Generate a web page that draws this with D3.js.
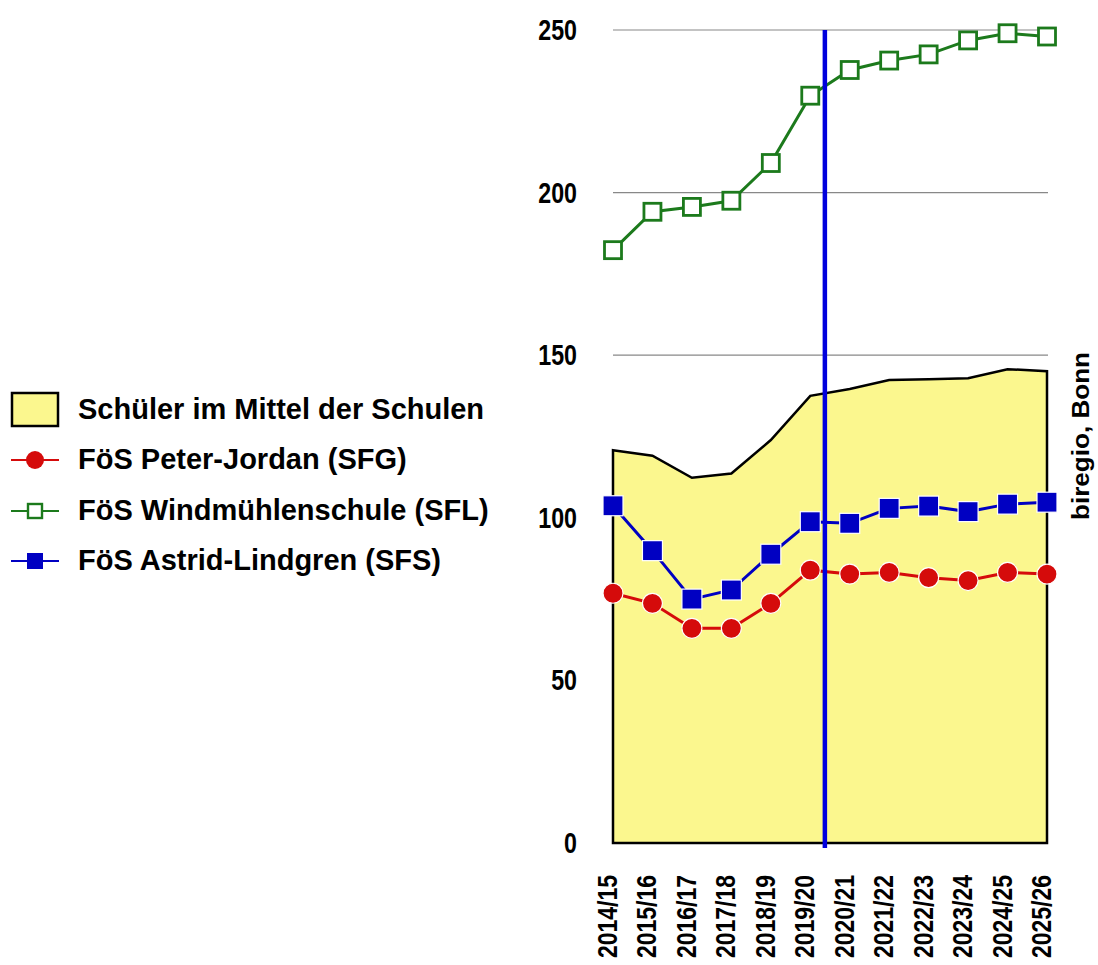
<!DOCTYPE html>
<html>
<head>
<meta charset="utf-8">
<script src="https://cdn.jsdelivr.net/npm/d3@7"></script>
<style>
  body { margin: 0; background: #fff; }
  text { font-family: "Liberation Sans", Arial, sans-serif; font-weight: bold; }
</style>
</head>
<body>
<div id="chart"></div>
<script>
// ----------------------------------------
// DATA
// ----------------------------------------
const years = ["2014/15", "2015/16", "2016/17", "2017/18", "2018/19", "2019/20",
  "2020/21", "2021/22", "2022/23", "2023/24", "2024/25", "2025/26"];

const mittel = [120.8, 119.1, 112.3, 113.6, 123.9, 137.5, 139.6, 142.4, 142.6, 142.9, 145.7, 145.1];
const peterJordan = [76.8, 73.7, 66.0, 66.0, 73.7, 83.9, 82.7, 83.2, 81.6, 80.7, 83.2, 82.7];
const windmuehle = [182.3, 194.1, 195.6, 197.5, 209.1, 229.8, 237.7, 240.6, 242.5, 246.8, 249.0, 248.0];
const astrid = [103.7, 89.9, 75.0, 77.8, 88.8, 98.8, 98.3, 102.9, 103.6, 101.9, 104.2, 104.8];

const yTicks = [0, 50, 100, 150, 200, 250];
const gridTicks = [150, 200, 250];
const legendLabels = ["Schüler im Mittel der Schulen", "FöS Peter-Jordan (SFG)",
  "FöS Windmühlenschule (SFL)", "FöS Astrid-Lindgren (SFS)"];

// ----------------------------------------
// SETUP
// ----------------------------------------
const width = 1098, height = 965;
const red = "#d50b0b", green = "#1c7a1c", blue = "#0000c2";

const svg = d3.select("#chart").append("svg")
  .attr("width", width)
  .attr("height", height);

const x = d3.scalePoint().domain(years).range([613, 1047]);
const y = d3.scaleLinear().domain([0, 250]).range([843, 30]);

// grid lines
svg.selectAll(".grid")
  .data(gridTicks)
  .join("line")
  .attr("x1", 613).attr("x2", 1048)
  .attr("y1", d => y(d)).attr("y2", d => y(d))
  .attr("stroke", "#888").attr("stroke-width", 1.2);

// y tick labels (condensed)
svg.selectAll(".ylab")
  .data(yTicks)
  .join("text")
  .attr("transform", d => `translate(577,${y(d) + 10}) scale(0.8,1)`)
  .attr("text-anchor", "end")
  .style("font-size", "29px")
  .text(d => d);

// ----------------------------------------
// AREA
// ----------------------------------------
const area = d3.area()
  .x((d, i) => x(years[i]))
  .y0(y(0))
  .y1(d => y(d));

svg.append("path")
  .datum(mittel)
  .attr("d", area)
  .attr("fill", "#fbf78e")
  .attr("stroke", "#000")
  .attr("stroke-width", 2.5)
  .attr("stroke-linejoin", "miter");

// ----------------------------------------
// LINES
// ----------------------------------------
const line = d3.line().x((d, i) => x(years[i])).y(d => y(d));

[[peterJordan, red], [windmuehle, green], [astrid, blue]].forEach(([vals, col]) => {
  svg.append("path")
    .datum(vals)
    .attr("d", line)
    .attr("fill", "none")
    .attr("stroke", col)
    .attr("stroke-width", 3);
});

// vertical marker line
const vx = x(years[5]) + 0.37 * x.step();
svg.append("line")
  .attr("x1", vx).attr("x2", vx)
  .attr("y1", y(250)).attr("y2", y(0) + 5)
  .attr("stroke", "#0000dd")
  .attr("stroke-width", 4.5);

// markers
svg.selectAll(".pj")
  .data(peterJordan)
  .join("circle")
  .attr("cx", (d, i) => x(years[i]))
  .attr("cy", d => y(d))
  .attr("r", 10)
  .attr("fill", red)
  .attr("stroke", "#fff")
  .attr("stroke-width", 1.2);

svg.selectAll(".wm")
  .data(windmuehle)
  .join("rect")
  .attr("x", (d, i) => x(years[i]) - 8.5)
  .attr("y", d => y(d) - 8.5)
  .attr("width", 17).attr("height", 17)
  .attr("fill", "#fff")
  .attr("stroke", green)
  .attr("stroke-width", 2.8);

svg.selectAll(".al")
  .data(astrid)
  .join("rect")
  .attr("x", (d, i) => x(years[i]) - 10)
  .attr("y", d => y(d) - 10)
  .attr("width", 20).attr("height", 20)
  .attr("fill", blue)
  .attr("stroke", "#fff")
  .attr("stroke-width", 1.2);

// x tick labels (rotated, condensed)
svg.selectAll(".xlab")
  .data(years)
  .join("text")
  .attr("transform", d => `translate(${x(d) + 4},958) rotate(-90) scale(0.82,1)`)
  .attr("text-anchor", "start")
  .style("font-size", "28px")
  .text(d => d);

// source label
svg.append("text")
  .attr("transform", "translate(1089,436) rotate(-90)")
  .attr("text-anchor", "middle")
  .style("font-size", "23px")
  .attr("textLength", 168)
  .attr("lengthAdjust", "spacingAndGlyphs")
  .text("biregio, Bonn");

// ----------------------------------------
// LEGEND
// ----------------------------------------
const legendY = [409.5, 460, 511, 561];
const lg = svg.append("g");

lg.append("rect")
  .attr("x", 12).attr("y", 393)
  .attr("width", 46).attr("height", 33)
  .attr("fill", "#fbf78e")
  .attr("stroke", "#000").attr("stroke-width", 2.5);

[[red, "circle"], [green, "open"], [blue, "square"]].forEach(([col, type], i) => {
  const cy = legendY[i + 1];
  lg.append("line")
    .attr("x1", 11).attr("x2", 59)
    .attr("y1", cy).attr("y2", cy)
    .attr("stroke", col).attr("stroke-width", 2);
  if (type === "circle") {
    lg.append("circle").attr("cx", 35).attr("cy", cy).attr("r", 9).attr("fill", col);
  } else if (type === "open") {
    lg.append("rect").attr("x", 28).attr("y", cy - 7).attr("width", 14).attr("height", 14)
      .attr("fill", "#fff").attr("stroke", col).attr("stroke-width", 2.4);
  } else {
    lg.append("rect").attr("x", 27).attr("y", cy - 8).attr("width", 16).attr("height", 16)
      .attr("fill", col);
  }
});

lg.selectAll(".ltext")
  .data(legendLabels)
  .join("text")
  .attr("x", 78)
  .attr("y", (d, i) => legendY[i] + 9)
  .style("font-size", "29px")
  .text(d => d);
</script>
</body>
</html>
